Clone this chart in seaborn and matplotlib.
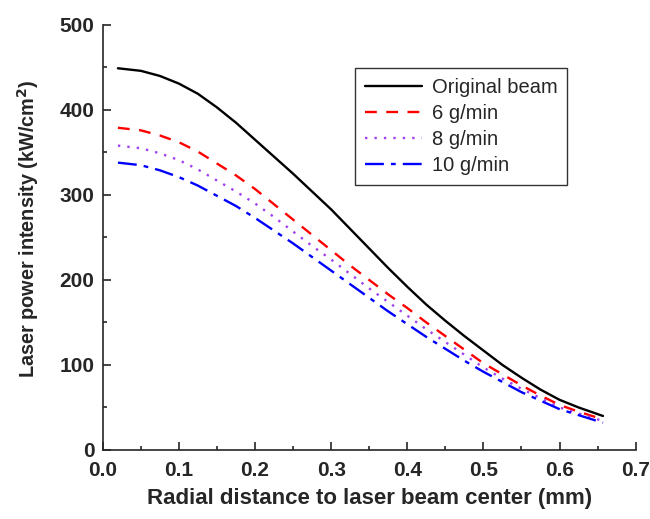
import matplotlib
matplotlib.use("Agg")
import matplotlib.pyplot as plt
import seaborn as sns
import pandas as pd
from matplotlib.ticker import MultipleLocator

x_mm = [0.02, 0.05, 0.075, 0.10, 0.125, 0.15, 0.175, 0.20, 0.225, 0.25, 0.275, 0.30, 0.325,
        0.35, 0.375, 0.40, 0.425, 0.45, 0.475, 0.50, 0.525, 0.55, 0.575, 0.60, 0.625, 0.657]
original = [449, 446, 440, 431, 419, 403, 385, 365, 345, 325, 304, 283, 260,
            237, 214, 192, 171, 152, 134, 117, 100, 85, 71, 59, 50, 40]
g6 = [379, 376, 370, 362, 351, 337, 323, 307, 289, 271, 253, 235, 217,
      200, 183, 167, 150, 134, 118, 102, 89, 76, 64, 53, 45, 36]
g8 = [358, 355, 349, 341, 330, 317, 304, 290, 274, 257, 240, 224, 207,
      190, 174, 158, 142, 127, 112, 97, 84, 72, 61, 50, 43, 34]
g10 = [338, 335, 329, 321, 311, 299, 287, 273, 258, 243, 227, 211, 195,
       179, 163, 148, 133, 119, 105, 92, 80, 68, 58, 48, 41, 32]
labels = ["Original beam", "6 g/min", "8 g/min", "10 g/min"]

rows = []
for lab, ys in zip(labels, [original, g6, g8, g10]):
    for xv, yv in zip(x_mm, ys):
        rows.append({"x": xv, "y": yv, "series": lab})
df = pd.DataFrame(rows)

sns.set_style("ticks")
plt.rcParams['font.family'] = ['Liberation Sans', 'DejaVu Sans']

fig = plt.figure(figsize=(6.5, 5.19), dpi=100)
ax = fig.add_axes([0.158, 0.133, 0.82, 0.819])

palette = {"Original beam": "black", "6 g/min": "#ff0000", "8 g/min": "#a040f0", "10 g/min": "#0000ff"}
styles = {"Original beam": "-", "6 g/min": (0, (5, 4)), "8 g/min": (0, (1, 3)), "10 g/min": (0, (8, 3, 2, 3))}

for lab in labels:
    sub = df[df["series"] == lab]
    sns.lineplot(data=sub, x="x", y="y", ax=ax, color=palette[lab], linestyle=styles[lab],
                 linewidth=1.7, label=lab)

ax.set_xlim(0, 0.7)
ax.set_ylim(0, 500)
ax.xaxis.set_major_locator(MultipleLocator(0.1))
ax.xaxis.set_minor_locator(MultipleLocator(0.05))
ax.yaxis.set_major_locator(MultipleLocator(100))
ax.yaxis.set_minor_locator(MultipleLocator(50))
ax.set_xticks([0.0, 0.1, 0.2, 0.3, 0.4, 0.5, 0.6, 0.7])
ax.set_xticklabels(["0.0", "0.1", "0.2", "0.3", "0.4", "0.5", "0.6", "0.7"])
ax.tick_params(which="major", direction="in", length=6, width=1.2, labelsize=15)
ax.tick_params(axis="x", which="major", pad=8)
ax.tick_params(axis="y", which="major", pad=6)
ax.tick_params(which="minor", direction="in", length=3, width=1.2)
for lbl in ax.get_xticklabels() + ax.get_yticklabels():
    lbl.set_fontweight("bold")
for s in ["top", "right"]:
    ax.spines[s].set_visible(False)
for s in ["left", "bottom"]:
    ax.spines[s].set_linewidth(1.2)

ax.set_xlabel("Radial distance to laser beam center (mm)", fontsize=16, fontweight="bold")
ax.set_ylabel("Laser power intensity (kW/cm$^\\mathbf{2}$)", fontsize=14.3, fontweight="bold")
ax.xaxis.set_label_coords(0.5, -0.09)
ax.yaxis.set_label_coords(-0.115, 0.52)

leg = ax.legend(loc="upper right", bbox_to_anchor=(0.872, 0.899), borderaxespad=0,
                fontsize=14.5, frameon=True, fancybox=False, edgecolor="black",
                handlelength=2.8, borderpad=0.5, labelspacing=0.35, handletextpad=0.5)
leg.get_frame().set_linewidth(1.0)

fig.savefig("out.png", dpi=100)
